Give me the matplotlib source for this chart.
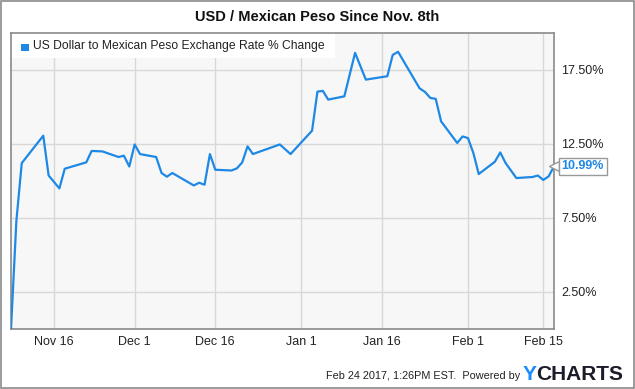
import pandas as pd
import matplotlib.pyplot as plt
import matplotlib.dates as mdates
from matplotlib.patches import Rectangle

# USD / MXN % change since election day

dates = ["2016-11-08", "2016-11-09", "2016-11-10", "2016-11-14", "2016-11-15",
         "2016-11-17", "2016-11-18", "2016-11-22", "2016-11-23", "2016-11-25",
         "2016-11-28", "2016-11-29", "2016-11-30",
         "2016-12-01", "2016-12-02", "2016-12-05", "2016-12-06", "2016-12-07",
         "2016-12-08", "2016-12-12", "2016-12-13", "2016-12-14", "2016-12-15",
         "2016-12-16", "2016-12-19", "2016-12-20", "2016-12-21", "2016-12-22",
         "2016-12-23", "2016-12-28", "2016-12-30",
         "2017-01-03", "2017-01-04", "2017-01-05", "2017-01-06", "2017-01-09",
         "2017-01-11", "2017-01-13", "2017-01-17", "2017-01-18", "2017-01-19",
         "2017-01-23", "2017-01-24", "2017-01-25", "2017-01-26", "2017-01-27",
         "2017-01-30", "2017-01-31",
         "2017-02-01", "2017-02-02", "2017-02-03", "2017-02-06", "2017-02-07",
         "2017-02-08", "2017-02-10", "2017-02-13", "2017-02-14", "2017-02-15",
         "2017-02-16", "2017-02-17"]

pct_change = [0.0, 7.3, 11.21, 13.06, 10.37, 9.50, 10.83, 11.26, 12.03, 12.0,
              11.62, 11.71, 10.98,
              12.47, 11.82, 11.62, 10.54, 10.29, 10.54, 9.70, 9.88, 9.75, 11.82,
              10.76, 10.71, 10.85, 11.25, 12.34, 11.82, 12.47, 11.82,
              13.40, 16.04, 16.09, 15.5, 15.72, 18.66, 16.85, 17.08, 18.52, 18.73,
              16.26, 16.02, 15.61, 15.55, 14.03, 12.57, 13.01,
              12.9, 11.89, 10.47, 11.30, 11.93, 11.21, 10.2, 10.27, 10.37, 10.07,
              10.31, 10.99]

x_ticks = ["2016-11-16", "2016-12-01", "2016-12-16", "2017-01-01",
           "2017-01-16", "2017-02-01", "2017-02-15"]
x_labels = ["Nov 16", "Dec 1", "Dec 16", "Jan 1", "Jan 16", "Feb 1", "Feb 15"]
y_ticks = [2.5, 7.5, 12.5, 17.5]

series_name = "US Dollar to Mexican Peso Exchange Rate % Change"
title = "USD / Mexican Peso Since Nov. 8th"

line_blue = "#1e88e5"
font = "Liberation Sans"

dt = pd.to_datetime(dates)
tick_dt = pd.to_datetime(x_ticks)

fig = plt.figure(figsize=(6.35, 3.89), dpi=100)
fig.patch.set_facecolor("white")

# outer border round the whole picture
fig.patches.append(Rectangle((0.001, 0.002), 0.997, 0.996, transform=fig.transFigure,
                             fill=False, edgecolor="#8a8a8a", linewidth=1.2))

ax = fig.add_axes([11 / 635, 60 / 389, 543 / 635, 296 / 389])
ax.set_facecolor("#f7f7f7")

ax.plot(dt, pct_change, color=line_blue, linewidth=1.6, zorder=3)

ax.set_xlim(dt[0], dt[-1])
ax.set_ylim(0, 20)

ax.set_xticks(tick_dt)
ax.set_xticklabels(x_labels, fontsize=9, fontfamily=font, color="#222222")
ax.set_yticks(y_ticks)
ax.set_yticklabels(["%.2f%%" % v for v in y_ticks], fontsize=9, fontfamily=font,
                   color="#222222")
ax.yaxis.tick_right()
ax.tick_params(axis="both", length=0)
ax.tick_params(axis="x", pad=5)
ax.tick_params(axis="y", pad=5)

ax.grid(True, color="#d8d8d8", linewidth=1)
ax.set_axisbelow(True)
for s in ax.spines.values():
    s.set_color("#8a8a8a")
    s.set_linewidth(1.2)

# legend box in the top-left corner
ax.add_patch(Rectangle((0, (329 - 58) / 296), (335 - 11) / 543, 25 / 296,
                       transform=ax.transAxes, facecolor="white", edgecolor="none",
                       zorder=2))
ax.add_patch(Rectangle((10 / 543, (329 - 51) / 296), 7.5 / 543, 7.5 / 296,
                       transform=ax.transAxes, facecolor=line_blue, edgecolor="none",
                       zorder=4))
ax.text(22 / 543, (329 - 46.5) / 296, series_name, transform=ax.transAxes,
        fontsize=8.7, fontfamily=font, color="#222222", va="center", ha="left", zorder=4)

# last value tag
ax.plot([dt[-1]], [pct_change[-1]], marker="<", markersize=7, markerfacecolor="white",
        markeredgecolor="#999999", clip_on=False, zorder=4)
ax.annotate("%.2f%%" % pct_change[-1], xy=(dt[-1], pct_change[-1]),
            xytext=(5.5, 0), textcoords="offset points", ha="left", va="center",
            fontsize=9, fontweight="bold", fontfamily=font, color=line_blue,
            annotation_clip=False, zorder=5,
            bbox=dict(boxstyle="square,pad=0.2", facecolor="white",
                      edgecolor="#999999", linewidth=1))

fig.text(0.5, 1 - 17 / 389, title, ha="center", va="center", fontsize=10.5,
         fontweight="bold", fontfamily=font, color="#111111")

fig.text(520 / 635, 1 - 376 / 389, "Feb 24 2017, 1:26PM EST.  Powered by",
         ha="right", va="center", fontsize=7.8, fontfamily=font, color="#222222")
fig.text(523 / 635, 1 - 374 / 389, "Y", ha="left", va="center", fontsize=15,
         fontweight="bold", fontfamily=font, color="#1a8cff")
fig.text(536.5 / 635, 1 - 374 / 389, "CHARTS", ha="left", va="center", fontsize=15,
         fontweight="bold", fontfamily=font, color="#1c1c2a")

plt.savefig("out.png", dpi=100)
